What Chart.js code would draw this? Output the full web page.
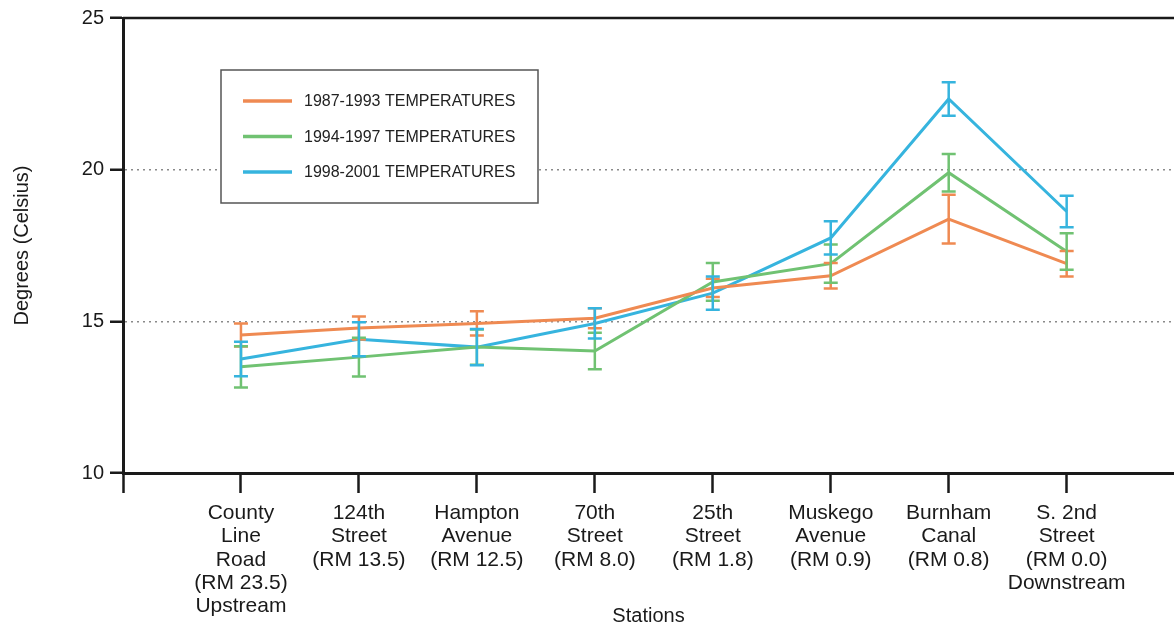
<!DOCTYPE html>
<html>
<head>
<meta charset="utf-8">
<script src="https://cdn.jsdelivr.net/npm/chart.js@4.4.1/dist/chart.umd.min.js"></script>
<style>
  body { margin: 0; background: #fff; }
  canvas { display: block; }
</style>
</head>
<body>
<canvas id="tempChart" width="1174" height="628"></canvas>
<script>
// stations along the river, upstream -> downstream
let stations = [
    ['County', 'Line', 'Road', '(RM 23.5)', 'Upstream'],
    ['124th', 'Street', '(RM 13.5)'],
    ['Hampton', 'Avenue', '(RM 12.5)'],
    ['70th', 'Street', '(RM 8.0)'],
    ['25th', 'Street', '(RM 1.8)'],
    ['Muskego', 'Avenue', '(RM 0.9)'],
    ['Burnham', 'Canal', '(RM 0.8)'],
    ['S. 2nd', 'Street', '(RM 0.0)', 'Downstream']
];

let seriesNames = ['1987-1993 TEMPERATURES', '1994-1997 TEMPERATURES', '1998-2001 TEMPERATURES'];

let temps8793 = [14.55, 14.78, 14.93, 15.10, 16.10, 16.50, 18.37, 16.90];
let err8793   = [0.38, 0.38, 0.40, 0.33, 0.30, 0.42, 0.80, 0.42];

let temps9497 = [13.50, 13.82, 14.15, 14.02, 16.30, 16.90, 19.90, 17.30];
let err9497   = [0.68, 0.64, 0.58, 0.60, 0.62, 0.63, 0.62, 0.60];

let temps9801 = [13.76, 14.41, 14.15, 14.93, 15.93, 17.75, 22.33, 18.62];
let err9801   = [0.57, 0.56, 0.60, 0.50, 0.55, 0.55, 0.55, 0.52];

let yTicks = [10, 15, 20, 25];

let colors = ['#ef8a52', '#70c272', '#36b4de'];

const FONT = 'Arial, "Liberation Sans", sans-serif';

function toPoints(arr) {
    return arr.map((v, i) => ({ x: i + 1, y: v }));
}

// draws the +/- error bars with the chart's own scales
const errorBars = {
    id: 'errorBars',
    afterDatasetsDraw(chart) {
        const ctx = chart.ctx;
        const xs = chart.scales.x, ys = chart.scales.y;
        const errs = [err8793, err9497, err9801];
        chart.data.datasets.forEach((ds, d) => {
            ctx.save();
            ctx.strokeStyle = ds.borderColor;
            ctx.lineWidth = 2.5;
            ds.data.forEach((p, i) => {
                const x = xs.getPixelForValue(p.x);
                const yTop = ys.getPixelForValue(p.y + errs[d][i]);
                const yBot = ys.getPixelForValue(p.y - errs[d][i]);
                ctx.beginPath();
                ctx.moveTo(x, yTop); ctx.lineTo(x, yBot);
                ctx.moveTo(x - 7, yTop); ctx.lineTo(x + 7, yTop);
                ctx.moveTo(x - 7, yBot); ctx.lineTo(x + 7, yBot);
                ctx.stroke();
            });
            ctx.restore();
        });
    }
};

// top frame line and the boxed legend inside the plot
const frameAndLegend = {
    id: 'frameAndLegend',
    afterDraw(chart) {
        const ctx = chart.ctx;
        const a = chart.chartArea;
        ctx.save();
        ctx.strokeStyle = '#1a1a1a';
        ctx.lineWidth = 2.5;
        ctx.beginPath();
        ctx.moveTo(a.left, a.top);
        ctx.lineTo(a.right, a.top);
        ctx.stroke();

        // legend box
        ctx.fillStyle = '#fff';
        ctx.fillRect(221, 70, 317, 133);
        ctx.strokeStyle = '#555';
        ctx.lineWidth = 1.5;
        ctx.strokeRect(221, 70, 317, 133);

        ctx.font = '16px ' + FONT;
        ctx.textBaseline = 'middle';
        chart.data.datasets.forEach((ds, i) => {
            const y = 101 + i * 35.5;
            ctx.strokeStyle = ds.borderColor;
            ctx.lineWidth = 3.5;
            ctx.beginPath();
            ctx.moveTo(243, y);
            ctx.lineTo(292, y);
            ctx.stroke();
            ctx.fillStyle = '#222';
            ctx.fillText(ds.label, 304, y + 1);
        });
        ctx.restore();
    }
};

window.addEventListener('load', function () {
    new Chart('tempChart', {
        type: 'line',
        data: {
            datasets: [
                { label: seriesNames[0], data: toPoints(temps8793), borderColor: colors[0] },
                { label: seriesNames[1], data: toPoints(temps9497), borderColor: colors[1] },
                { label: seriesNames[2], data: toPoints(temps9801), borderColor: colors[2] }
            ]
        },
        options: {
            responsive: false,
            animation: false,
            layout: { padding: { top: 14, right: 0, left: 0, bottom: 0 } },
            elements: {
                line: { borderWidth: 3, tension: 0 },
                point: { radius: 0 }
            },
            plugins: {
                legend: { display: false },
                tooltip: { enabled: false }
            },
            scales: {
                x: {
                    type: 'linear',
                    min: 0,
                    max: 8.91,
                    afterBuildTicks: function (axis) {
                        axis.ticks = [0, 1, 2, 3, 4, 5, 6, 7, 8].map(v => ({ value: v }));
                    },
                    afterFit: function (axis) { axis.height = 155; },
                    ticks: {
                        autoSkip: false,
                        maxRotation: 0,
                        padding: 9,
                        color: '#1a1a1a',
                        font: { family: FONT, size: 21, lineHeight: 1.1 },
                        callback: function (value) {
                            return value >= 1 ? stations[value - 1] : '';
                        }
                    },
                    grid: {
                        drawOnChartArea: false,
                        tickLength: 20,
                        tickColor: '#1a1a1a',
                        tickWidth: 2.5
                    },
                    border: { color: '#1a1a1a', width: 3 },
                    title: {
                        display: true,
                        text: 'Stations',
                        color: '#1a1a1a',
                        font: { family: FONT, size: 20 },
                        padding: { top: 0, bottom: 0 }
                    }
                },
                y: {
                    min: 10,
                    max: 25,
                    afterBuildTicks: function (axis) {
                        axis.ticks = yTicks.map(v => ({ value: v }));
                    },
                    afterFit: function (axis) { axis.width = 123; },
                    ticks: {
                        padding: 6,
                        color: '#1a1a1a',
                        font: { family: FONT, size: 20 }
                    },
                    grid: {
                        color: function (c) {
                            return (c.tick && (c.tick.value === 15 || c.tick.value === 20)) ? '#8a8a8a' : 'rgba(0,0,0,0)';
                        },
                        lineWidth: 1.5,
                        tickLength: 13,
                        tickColor: '#1a1a1a',
                        tickWidth: 2.5
                    },
                    border: { color: '#1a1a1a', width: 3, dash: [2, 4] },
                    title: {
                        display: true,
                        text: 'Degrees (Celsius)',
                        color: '#1a1a1a',
                        font: { family: FONT, size: 20 },
                        padding: { top: 10, bottom: 0 }
                    }
                }
            }
        },
        plugins: [errorBars, frameAndLegend]
    });
});
</script>
</body>
</html>
